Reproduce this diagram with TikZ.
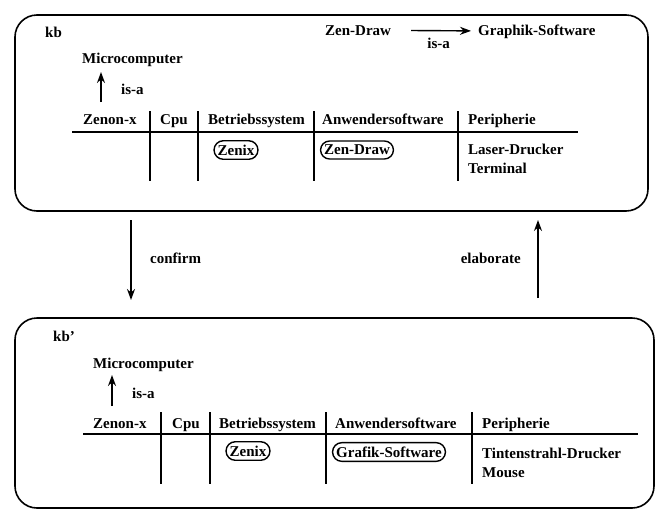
\documentclass[tikz,border=0pt]{standalone}
\usepackage{fontspec}
\setmainfont{Liberation Serif}
\usetikzlibrary{arrows.meta,shapes.misc}
\tikzset{
  kbox/.style={draw, line width=1.6pt, rounded corners=22pt},
  txt/.style={anchor=base west, inner sep=0pt, font=\fontsize{15}{18}\selectfont\bfseries},
  oval/.style={draw, rounded rectangle, line width=1.4pt, inner xsep=2pt, inner ysep=4pt, font=\fontsize{15}{18}\selectfont\bfseries},
  isa/.style={-{Stealth[length=11pt,width=8pt]}, line width=1.4pt},
  tline/.style={line width=1.3pt}
}

\begin{document}
\begin{tikzpicture}[x=1pt,y=-1pt]
  \useasboundingbox (0,0) rectangle (656,512);

  % upper knowledge base
  \draw [kbox] (15,15) rectangle (648,211);
  \node [txt] (kb) at (45,37) {kb};
  \node [txt] (zendraw) at (325,35) {Zen-Draw};
  \node [txt] (graphik) at (478,35) {Graphik-Software};
  \draw [isa, shorten <=20pt, shorten >=7pt] (zendraw) -- (graphik)
    node [midway, txt, anchor=base, xshift=4pt, yshift=-18pt] {is-a};
  \node [txt] (micro) at (82,63) {Microcomputer};
  \coordinate (zfoot) at (101,102);
  \coordinate (ztip) at (101,72);
  \draw [isa] (zfoot) -- (ztip);
  \node [txt] at (121,94) {is-a};
  % table
  \node [txt] (zenon) at (83,124) {Zenon-x};
  \node [txt] (cpu) at (160,124) {Cpu};
  \node [txt] (bs) at (208,124) {Betriebssystem};
  \node [txt] (aw) at (322,124) {Anwendersoftware};
  \node [txt] (per) at (468,124) {Peripherie};
  \draw [tline] (72,132) -- (578,132);
  \foreach \x in {150,198,314,458}
    \draw [tline] (\x,111) -- (\x,181);
  \node [oval] (zenix) at (236,150) {Zenix};
  \node [oval] (zdraw) at (357,150) {Zen-Draw};
  \node [txt] (laser) at (468,154) {Laser-Drucker};
  \node [txt] (term) at (468,173) {Terminal};

  % confirm / elaborate
  \coordinate (cfa) at (131,220);
  \coordinate (cfb) at (131,300);
  \coordinate (ela) at (538,298);
  \coordinate (elb) at (538,220);
  \draw [isa] (cfa) -- (cfb);
  \draw [isa] (ela) -- (elb);
  \node [txt] (confirm) at (150,263) {confirm};
  \node [txt, anchor=base east] (elab) at (521,263) {elaborate};

  % lower knowledge base
  \draw [kbox] (15,318) rectangle (654,508);
  \node [txt] (kbb) at (53,341) {kb'};
  \node [txt] (microb) at (93,368) {Microcomputer};
  \coordinate (zfootb) at (112,406);
  \coordinate (ztipb) at (112,375);
  \draw [isa] (zfootb) -- (ztipb);
  \node [txt] at (132,398) {is-a};
  % table
  \node [txt] (zenonb) at (93,428) {Zenon-x};
  \node [txt] (cpub) at (172,428) {Cpu};
  \node [txt] (bsb) at (219,428) {Betriebssystem};
  \node [txt] (awb) at (335,428) {Anwendersoftware};
  \node [txt] (perb) at (482,428) {Peripherie};
  \draw [tline] (83,434) -- (638,434);
  \foreach \x in {161,210,326,472}
    \draw [tline] (\x,412) -- (\x,484);
  \node [oval] (zenixb) at (248,451) {Zenix};
  \node [oval] (grafik) at (389,452) {Grafik-Software};
  \node [txt] (tinte) at (482,458) {Tintenstrahl-Drucker};
  \node [txt] (mouse) at (482,477) {Mouse};
\end{tikzpicture}
\end{document}
